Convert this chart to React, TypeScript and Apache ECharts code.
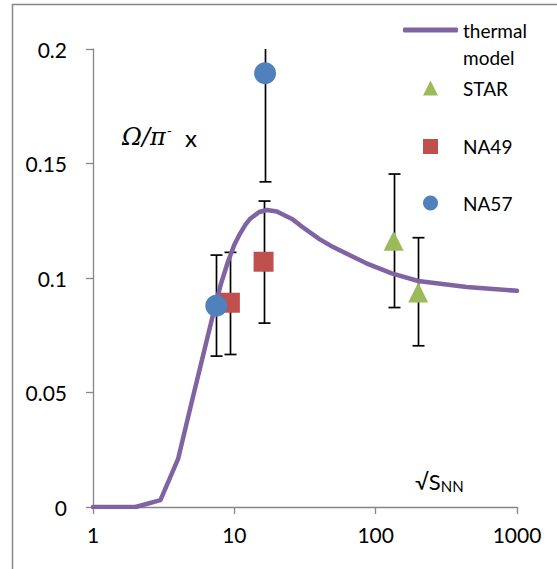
import React, { useEffect, useRef } from "react";
import * as echarts from "echarts";

// thermal model curve (sqrt(s_NN) in GeV vs Omega/pi- ratio)
const modelX = [1, 2, 3, 4, 5, 6, 7, 8, 9, 10, 11, 12, 13, 15, 17, 20, 26, 30, 40, 50, 86, 130, 200, 440, 1000];
const modelY = [0, 0, 0.003, 0.021, 0.046, 0.066, 0.083, 0.097, 0.107, 0.1145, 0.1195, 0.1233, 0.126, 0.1288, 0.1297, 0.129, 0.1255, 0.1225, 0.117, 0.1135, 0.1064, 0.102, 0.0987, 0.0961, 0.0944];

// STAR
const starX = [134, 200];
const starY = [0.1163, 0.0937];
const starLo = [0.0871, 0.0704];
const starHi = [0.1454, 0.1176];

// NA49
const na49X = [9.3, 16.1];
const na49Y = [0.0892, 0.1071];
const na49Lo = [0.0666, 0.0803];
const na49Hi = [0.1112, 0.1336];

// NA57
const na57X = [7.45, 16.5];
const na57Y = [0.0879, 0.1894];
const na57Lo = [0.0659, 0.142];
const na57Hi = [0.11, 0.24];

const xTicks = [1, 10, 100, 1000];
const yTicks = [0, 0.05, 0.1, 0.15, 0.2];

const FONT = "Lato";

export default function App() {
  const ref = useRef<HTMLDivElement>(null);
  useEffect(() => {
    if (!ref.current) return;
    const chart = echarts.init(ref.current, null, { renderer: "svg" });

    const errData: number[][] = [];
    starX.forEach((x, i) => errData.push([x, starLo[i], starHi[i]]));
    na49X.forEach((x, i) => errData.push([x, na49Lo[i], na49Hi[i]]));
    na57X.forEach((x, i) => errData.push([x, na57Lo[i], na57Hi[i]]));

    const legendText = { fontFamily: FONT, fontSize: 19, color: "#000", lineHeight: 24 };
    const scatterLegend = (name: string, icon: string, top: number) => ({
      data: [{ name, icon }],
      left: 423,
      top,
      orient: "vertical",
      itemWidth: 15,
      itemHeight: 15,
      selectedMode: false,
      padding: 0,
      textStyle: { ...legendText, padding: [0, 0, 0, 20] },
    });

    chart.setOption({
      animation: false,
      backgroundColor: "#fff",
      grid: { left: 93, top: 49, width: 424, height: 458 },
      xAxis: {
        type: "log",
        logBase: 10,
        min: xTicks[0],
        max: xTicks[xTicks.length - 1],
        axisLine: { lineStyle: { color: "#868686", width: 1.3 } },
        axisTick: { show: true, inside: false, length: 7, lineStyle: { color: "#868686", width: 1.3 } },
        minorTick: { show: false },
        splitLine: { show: false },
        axisLabel: {
          fontFamily: FONT,
          fontSize: 21,
          color: "#000",
          margin: 17,
          formatter: (v: number) => {
            const t = xTicks.find((k) => Math.abs(k - v) / k < 1e-6);
            return t !== undefined ? String(t) : "";
          },
        },
      },
      yAxis: {
        type: "value",
        min: yTicks[0],
        max: yTicks[yTicks.length - 1],
        interval: 0.05,
        axisLine: { show: true, lineStyle: { color: "#868686", width: 1.3 } },
        axisTick: { show: true, inside: false, length: 7, lineStyle: { color: "#868686", width: 1.3 } },
        splitLine: { show: false },
        axisLabel: {
          fontFamily: FONT,
          fontSize: 21,
          color: "#000",
          margin: 26,
          formatter: (v: number) => String(Math.round(v * 100) / 100),
        },
      },
      legend: [
        {
          data: [{ name: "thermal", icon: "roundRect" }],
          left: 403,
          top: 18,
          itemWidth: 55,
          itemHeight: 5,
          selectedMode: false,
          padding: 0,
          textStyle: { ...legendText },
        },
        scatterLegend("STAR", "triangle", 76),
        scatterLegend("NA49", "rect", 134.5),
        scatterLegend("NA57", "circle", 191),
      ],
      graphic: [
        {
          type: "rect",
          shape: { x: 12.5, y: 4.5, width: 700, height: 700 },
          style: { fill: "none", stroke: "#868686", lineWidth: 1.5 },
          silent: true,
        },
        {
          type: "text",
          left: 463,
          top: 48,
          style: { text: "model", font: `19px ${FONT}`, fill: "#000" },
        },
        {
          type: "text",
          x: 122,
          y: 137,
          style: {
            text: "{i|Ω/π}{s|-}{n|x}",
            verticalAlign: "middle",
            rich: {
              i: { fontFamily: "DejaVu Serif", fontStyle: "italic", fontSize: 24, fill: "#000" },
              s: { fontFamily: FONT, fontSize: 14, fill: "#000", verticalAlign: "top", padding: [0, 0, 14, 1] },
              n: { fontFamily: FONT, fontSize: 24, fill: "#000", padding: [0, 0, 0, 13] },
            },
          },
        },
        {
          type: "text",
          x: 415,
          y: 481,
          style: {
            text: "{a|√S}{b|NN}",
            verticalAlign: "middle",
            rich: {
              a: { fontFamily: FONT, fontSize: 22, fill: "#000" },
              b: { fontFamily: FONT, fontSize: 15, fill: "#000", padding: [10, 0, 0, 0] },
            },
          },
        },
      ],
      series: [
        {
          type: "custom",
          name: "err",
          z: 1,
          data: errData,
          encode: { x: 0, y: [1, 2] },
          renderItem: (params: any, api: any) => {
            const x = api.value(0);
            const lo = api.coord([x, api.value(1)]);
            const hi = api.coord([x, api.value(2)]);
            const cs = params.coordSys;
            const top = cs.y;
            const bottom = cs.y + cs.height;
            const px = Math.round(lo[0]) + 0.5;
            const yHi = Math.max(hi[1], top);
            const yLo = Math.min(lo[1], bottom);
            const style = { stroke: "#000", lineWidth: 1.7 };
            const children: any[] = [
              { type: "line", shape: { x1: px, y1: yHi, x2: px, y2: yLo }, style },
            ];
            if (hi[1] >= top) children.push({ type: "line", shape: { x1: px - 6, y1: hi[1], x2: px + 6, y2: hi[1] }, style });
            if (lo[1] <= bottom) children.push({ type: "line", shape: { x1: px - 6, y1: lo[1], x2: px + 6, y2: lo[1] }, style });
            return { type: "group", children };
          },
        },
        {
          type: "line",
          name: "thermal",
          z: 2,
          data: modelX.map((x, i) => [x, modelY[i]]),
          showSymbol: false,
          symbol: "none",
          color: "#8064A2",
          lineStyle: { color: "#8064A2", width: 4.5, cap: "round", join: "round" },
        },
        {
          type: "scatter",
          name: "STAR",
          z: 3,
          data: starX.map((x, i) => [x, starY[i]]),
          symbol: "triangle",
          symbolSize: [20, 20],
          itemStyle: { color: "#9BBB59", opacity: 1 },
        },
        {
          type: "scatter",
          name: "NA49",
          z: 4,
          data: na49X.map((x, i) => [x, na49Y[i]]),
          symbol: "rect",
          symbolSize: 20,
          itemStyle: { color: "#C0504D", opacity: 1 },
        },
        {
          type: "scatter",
          name: "NA57",
          z: 5,
          data: na57X.map((x, i) => [x, na57Y[i]]),
          symbol: "circle",
          symbolSize: 22,
          itemStyle: { color: "#4F81BD", opacity: 1 },
        },
      ],
    });
    return () => chart.dispose();
  }, []);
  return (
    <div
      ref={ref}
      style={{ position: "fixed", left: 0, top: 0, width: 557, height: 569, background: "#fff" }}
    />
  );
}
